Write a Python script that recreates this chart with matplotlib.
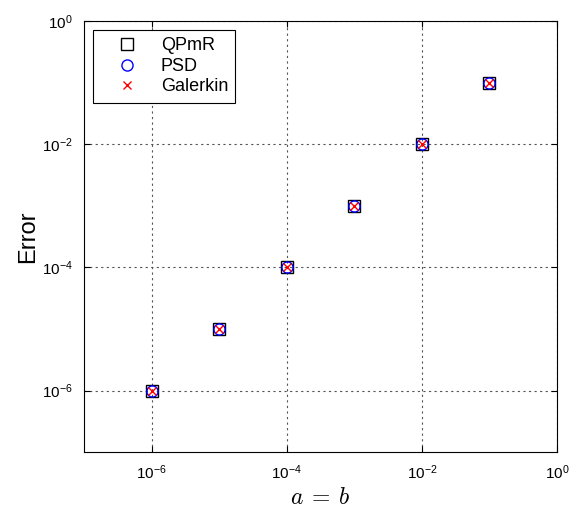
import matplotlib
matplotlib.use("Agg")
import matplotlib.pyplot as plt
import numpy as np

plt.rcParams['font.family'] = ['Liberation Sans', 'DejaVu Sans']
plt.rcParams['mathtext.fontset'] = 'cm'

ab = [1e-6, 1e-5, 1e-4, 1e-3, 1e-2, 1e-1]
err_qpmr = [1e-6, 1e-5, 1e-4, 1e-3, 1e-2, 1e-1]
err_psd = [1e-6, 1e-5, 1e-4, 1e-3, 1e-2, 1e-1]
err_galerkin = [1e-6, 1e-5, 1e-4, 1e-3, 1e-2, 1e-1]

fig = plt.figure(figsize=(5.71, 5.12), dpi=100)
ax = fig.add_axes([0.147, 0.117, 0.8285, 0.842])

ax.loglog(ab, err_qpmr, 's', ms=9, mfc='none', mec='black', mew=1.0, label='QPmR')
ax.loglog(ab, err_psd, 'o', ms=8, mfc='none', mec='blue', mew=1.0, label='PSD')
ax.loglog(ab, err_galerkin, 'x', ms=6, color='red', mew=1.0, label='Galerkin')

ax.set_xlim(1e-7, 1e0)
ax.set_ylim(1e-7, 1e0)
ax.set_xticks([1e-6, 1e-4, 1e-2, 1e0])
ax.set_yticks([1e-6, 1e-4, 1e-2, 1e0])
ax.minorticks_off()
ax.tick_params(direction='in', top=True, right=True, labelsize=11, length=4, pad=8)
ax.grid(True, color='#555555', linestyle=(0, (2, 3)), linewidth=0.8)

ax.set_xlabel(r'$a\:=\:b$', fontsize=17, labelpad=4)
ax.set_ylabel('Error', fontsize=17, labelpad=2)

leg = ax.legend(loc='upper left', fontsize=13, fancybox=False, edgecolor='black',
                framealpha=1, borderaxespad=0.5, borderpad=0.4, handlelength=3.0,
                handletextpad=0.35, labelspacing=0.2)
leg.get_frame().set_linewidth(0.8)

fig.savefig('out.png', dpi=100)
